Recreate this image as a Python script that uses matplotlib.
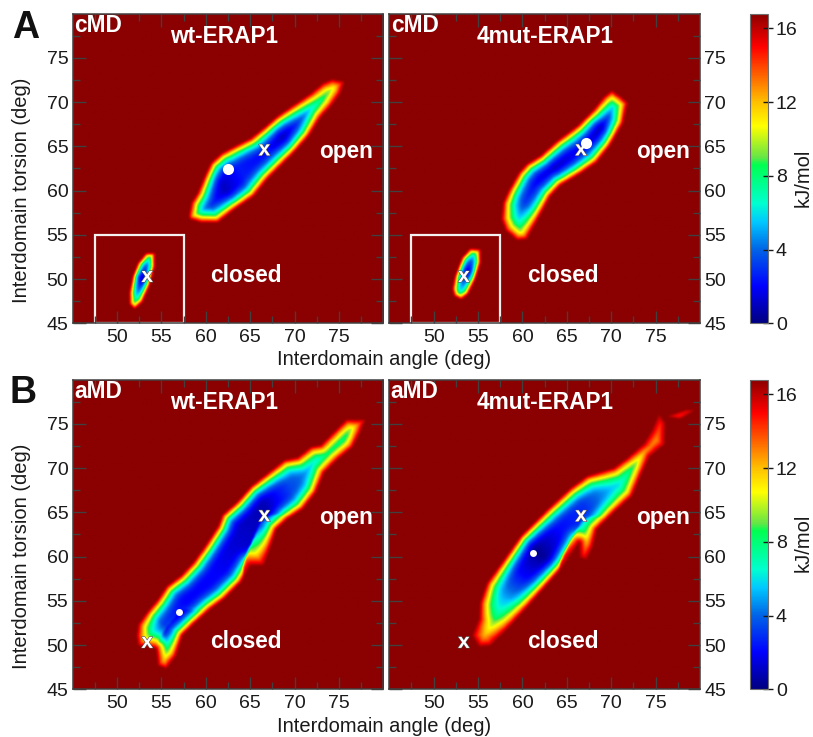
import numpy as np
import matplotlib
matplotlib.use('Agg')
import matplotlib.pyplot as plt
import matplotlib.patheffects as pe
from matplotlib.colors import LinearSegmentedColormap
from matplotlib.patches import Rectangle
from matplotlib.path import Path

plt.rcParams['font.family'] = ['Liberation Sans', 'DejaVu Sans']

VMAX = 16.8

# colour bar (kJ/mol, colour)
cmap_values = [0, 2, 4, 5.5, 6.5, 8.6, 9.0, 10.7, 12, 13.5, 15, 16.8]
cmap_colors = ['#000080', '#0000ff', '#0064e6', '#00c8ff', '#00ffd0', '#00ff50',
               '#64e646', '#ffff00', '#ffc000', '#ff6000', '#ff0000', '#8b0000']

# basin outlines (angle, torsion in deg)
cmd_wt_open_x = [58.0, 58.3, 59.0, 59.8, 60.5, 61.7, 63.2, 65.0, 66.5, 68.0, 69.9, 71.8, 73.1, 74.2, 75.6,
                 75.2, 74.1, 72.9, 71.6, 69.9, 68.4, 66.9, 65.4, 63.2, 61.3, 59.4, 58.1]
cmd_wt_open_y = [57.1, 58.6, 59.7, 61.6, 63.1, 64.2, 65.0, 65.9, 67.1, 68.4, 69.7, 71.0, 72.1, 72.6, 72.3,
                 71.0, 69.5, 68.2, 66.1, 64.2, 62.7, 61.2, 59.3, 57.8, 56.3, 56.3, 56.7]
cmd_wt_closed_x = [51.3, 51.7, 52.3, 53.2, 54.2, 54.2, 53.6, 52.8, 51.9, 51.3]
cmd_wt_closed_y = [48.4, 50.3, 51.8, 52.9, 52.9, 51.4, 49.2, 47.3, 46.5, 47.1]
cmd_mut_open_x = [57.6, 57.8, 58.5, 59.6, 60.5, 62.0, 63.9, 66.2, 68.0, 69.2, 70.1, 71.1, 71.9, 71.4, 69.9,
                  68.4, 66.5, 64.3, 63.2, 62.0, 60.5, 59.4, 58.1]
cmd_mut_open_y = [56.7, 58.6, 60.1, 62.0, 63.0, 63.9, 65.6, 67.3, 69.1, 70.6, 71.3, 70.6, 69.9, 67.6, 65.0,
                  63.1, 61.8, 60.5, 59.3, 57.1, 54.4, 54.3, 55.4]
cmd_mut_closed_x = [52.1, 52.4, 53.2, 54.1, 55.3, 55.3, 54.7, 53.9, 53.1, 52.3]
cmd_mut_closed_y = [48.8, 50.3, 52.4, 53.4, 53.3, 51.8, 49.9, 48.2, 47.6, 48.0]
amd_wt_x = [52.1, 52.3, 53.4, 54.5, 55.5, 57.1, 58.5, 59.8, 61.3, 61.8, 63.5, 65.0, 66.9, 68.8, 70.3, 71.8,
            72.9, 74.4, 75.8, 78.0, 77.4, 76.5, 74.8, 73.3, 72.4, 70.9, 69.2, 67.9, 67.3, 66.5, 65.0, 63.9,
            62.0, 60.5, 58.6, 57.3, 56.6, 55.5, 54.5, 54.3, 53.4, 52.3]
amd_wt_y = [51.0, 52.3, 53.8, 55.1, 56.6, 57.8, 59.3, 61.1, 63.4, 64.7, 66.2, 67.9, 69.4, 70.9, 71.2, 72.4,
            72.6, 74.1, 75.5, 75.5, 74.0, 72.3, 70.9, 69.4, 67.2, 65.3, 64.2, 63.0, 61.1, 58.9, 58.9, 57.0,
            55.1, 54.0, 52.3, 51.0, 48.7, 47.2, 47.6, 49.5, 49.7, 49.8]
amd_mut_x = [54.3, 55.1, 55.2, 56.0, 57.9, 59.8, 62.8, 65.4, 67.3, 70.3, 71.8, 73.7, 74.6, 75.4, 76.2, 76.1,
             74.4, 73.5, 72.4, 70.3, 68.4, 68.0, 67.3, 66.4, 66.4, 64.7, 62.4, 60.2, 58.3, 56.4, 55.1]
amd_mut_y = [51.0, 52.9, 54.7, 57.0, 59.6, 62.3, 65.3, 67.7, 69.1, 70.0, 71.1, 72.8, 74.3, 76.2, 75.1, 72.6,
             71.3, 69.4, 66.8, 64.9, 63.0, 61.1, 59.5, 59.8, 61.5, 58.9, 56.3, 53.8, 51.7, 49.8, 49.7]
amd_mut_tail_x = [76.2, 78.5, 79.7, 77.8]
amd_mut_tail_y = [75.8, 76.6, 76.6, 75.5]

# energy along the floor of each basin: angle, torsion, kJ/mol
cmd_wt_open_floor = ([58.6, 61.8, 64.0, 67.2, 68.7, 71.0, 73.5, 75.0],
                     [57.5, 60.5, 62.0, 64.4, 66.0, 68.0, 70.3, 71.5],
                     [4, 1, 2.5, 2, 0.8, 3, 6, 8])
cmd_wt_closed_floor = ([52.0, 52.8, 53.7], [47.5, 50.0, 52.2], [6, 0.8, 5])
cmd_mut_open_floor = ([58.8, 60.2, 61.7, 63.5, 66.5, 68.8, 70.5],
                      [56.3, 58.6, 60.9, 62.7, 64.8, 67.1, 69.8],
                      [6.5, 3, 1.8, 0.8, 2, 0.5, 5])
cmd_mut_closed_floor = ([53.1, 53.9, 54.7], [48.2, 50.9, 53.0], [6, 1.5, 6])
amd_wt_floor = ([53.2, 54.7, 57.7, 60.7, 63.2, 66.5, 69.5, 72.9, 75.9, 77.3],
                [50.8, 52.7, 54.9, 58.1, 61.9, 65.7, 67.7, 71.3, 73.8, 74.9],
                [8, 3.2, 2, 2, 1.3, 0.8, 3.4, 5.5, 6, 9])
amd_wt_lobe_floor = ([55.3, 56.4, 57.4], [48.3, 51.2, 53.2], [8, 1.8, 1])
amd_wt_notch_floor = ([67.0, 66.6], [63.3, 59.5], [3, 11])
amd_mut_floor = ([56.0, 56.8, 57.9, 59.8, 61.65, 64.3, 67.3, 70.3, 72.6, 74.1, 75.4],
                 [51.0, 53.2, 55.5, 58.1, 60.6, 63.0, 65.3, 67.6, 70.2, 72.8, 75.5],
                 [11, 7.5, 5, 2, 0.3, 2.2, 3, 5.5, 6, 10.5, 12])
amd_mut_notch_floor = ([67.4, 67.0], [63.5, 60.0], [5, 12])
amd_mut_tail_floor = ([76.5, 79.5], [75.9, 76.5], [14, 15])

panels = [
    dict(basins=[(cmd_wt_open_x, cmd_wt_open_y, 2.5, [cmd_wt_open_floor]),
                 (cmd_wt_closed_x, cmd_wt_closed_y, 1.2, [cmd_wt_closed_floor])],
         method='cMD', title='wt-ERAP1', dot=(62.5, 62.4), box=True),
    dict(basins=[(cmd_mut_open_x, cmd_mut_open_y, 2.5, [cmd_mut_open_floor]),
                 (cmd_mut_closed_x, cmd_mut_closed_y, 1.2, [cmd_mut_closed_floor])],
         method='cMD', title='4mut-ERAP1', dot=(67.2, 65.4), box=True),
    dict(basins=[(amd_wt_x, amd_wt_y, 2.5, [amd_wt_floor, amd_wt_lobe_floor, amd_wt_notch_floor])],
         method='aMD', title='wt-ERAP1', dot=(57.0, 53.7), box=False),
    dict(basins=[(amd_mut_x, amd_mut_y, 2.5, [amd_mut_floor, amd_mut_notch_floor]),
                 (amd_mut_tail_x, amd_mut_tail_y, 0.6, [amd_mut_tail_floor])],
         method='aMD', title='4mut-ERAP1', dot=(61.2, 60.4), box=False),
]
cross_x = [53.4, 66.6]
cross_y = [50.3, 64.6]

nodes = np.linspace(45, 80, 351)
gx, gy = np.meshgrid(nodes, nodes)
kernel = np.array([1, 2, 3, 2, 1], dtype=float)
kernel /= kernel.sum()


def seg_dist(x0, y0, x1, y1):
    dx, dy = x1 - x0, y1 - y0
    t = np.clip(((gx - x0) * dx + (gy - y0) * dy) / (dx * dx + dy * dy), 0, 1)
    return np.hypot(gx - x0 - t * dx, gy - y0 - t * dy), t


def floor_energy(floors):
    best = np.full(gx.shape, np.inf)
    out = np.full(gx.shape, VMAX)
    for xs, ys, es in floors:
        for i in range(len(xs) - 1):
            d, t = seg_dist(xs[i], ys[i], xs[i + 1], ys[i + 1])
            closer = d < best
            best[closer] = d[closer]
            out[closer] = (es[i] + t * (es[i + 1] - es[i]))[closer]
    return out


def basin_energy(xs, ys, depth, floors):
    inside = Path(np.column_stack([xs, ys])).contains_points(np.column_stack([gx.ravel(), gy.ravel()]))
    inside = inside.reshape(gx.shape)
    edge = np.full(gx.shape, np.inf)
    for i in range(len(xs)):
        j = (i + 1) % len(xs)
        edge = np.minimum(edge, seg_dist(xs[i], ys[i], xs[j], ys[j])[0])
    e = floor_energy(floors)
    z = e + (VMAX - e) * np.clip(1 - edge / depth, 0, 1) ** 2.2
    z[~inside] = VMAX
    return z


def panel_energy(basins):
    z = np.minimum.reduce([basin_energy(*b) for b in basins])
    # soften the polygon corners a little
    z = np.apply_along_axis(lambda v: np.convolve(v, kernel, mode='same'), 0, z - VMAX) + VMAX
    z = np.apply_along_axis(lambda v: np.convolve(v, kernel, mode='same'), 1, z - VMAX) + VMAX
    return z


cmap = LinearSegmentedColormap.from_list('fes', [(v / VMAX, c) for v, c in zip(cmap_values, cmap_colors)], N=512)

W, H = 813, 737
fig = plt.figure(figsize=(W / 100, H / 100), dpi=100)


def px_axes(left, top, right, bottom):
    return fig.add_axes([left / W, 1 - bottom / H, (right - left) / W, (bottom - top) / H])


lefts = [(72.6, 383.4), (389.3, 700.0)]
rows = [(13.5, 323.4), (379.5, 689.3)]
title_x = [62.1, 62.5]
spine = '#404040'
ink = '#1a1a1a'
white_bold = dict(color='white', fontweight='bold')

for n, p in enumerate(panels):
    l, r = lefts[n % 2]
    t, b = rows[n // 2]
    ax = px_axes(l, t, r, b)
    im = ax.imshow(panel_energy(p['basins']), origin='lower', extent=(45, 80, 45, 80), cmap=cmap,
                   vmin=0, vmax=VMAX, interpolation='bilinear', aspect='auto')
    ax.set_xlim(45, 80)
    ax.set_ylim(45, 80)
    ax.set_xticks(np.arange(50, 76, 5))
    ax.set_yticks(np.arange(45, 76, 5))
    ax.set_xticks(np.arange(47.5, 80, 5), minor=True)
    ax.set_yticks(np.arange(47.5, 80, 5), minor=True)
    ax.tick_params(which='major', direction='in', length=9, width=1, color=spine, top=True, right=True,
                   labelsize=14, labelcolor=ink, pad=4)
    ax.tick_params(axis='y', which='major', pad=3)
    ax.tick_params(which='minor', direction='in', length=5, width=1, color=spine, top=True, right=True)
    if n % 2 == 1:
        ax.tick_params(axis='y', which='major', labelleft=False, labelright=True, pad=3)
    for s in ax.spines.values():
        s.set_color(spine)
        s.set_linewidth(1.1)
    if p['box']:
        ax.add_patch(Rectangle((47.5, 45), 10, 10, fill=False, ec='#f4f0f0', lw=1.6, clip_on=True))
    for cx, cy in zip(cross_x, cross_y):
        ax.text(cx, cy, 'x', fontsize=15, ha='center', va='center', zorder=4,
                path_effects=[pe.withStroke(linewidth=0.8, foreground='#505050')], **white_bold)
    ax.plot(*p['dot'], marker='o', ms=8 if n < 2 else 5, mfc='white', mec='none', zorder=5)
    ax.text(45.15, 79.9, p['method'], fontsize=16.4, va='top', ha='left', **white_bold)
    ax.text(title_x[n % 2], 77.4, p['title'], fontsize=16.3, va='center', ha='center', **white_bold)
    ax.text(75.8, 64.4, 'open', fontsize=16.3, va='center', ha='center', **white_bold)
    ax.text(64.5, 50.4, 'closed', fontsize=16.3, va='center', ha='center', **white_bold)

    if n % 2 == 1:
        cax = px_axes(749.7, t, 768.3, b)
        cb = fig.colorbar(im, cax=cax, ticks=[0, 4, 8, 12, 16])
        cb.ax.tick_params(direction='inout', length=7, width=1, color=ink, labelsize=14, labelcolor=ink, pad=2)
        cb.outline.set_edgecolor('#707070')

label_kw = dict(fontsize=14.5, ha='center', va='center', color=ink)
fig.text(384 / W, 1 - 359.5 / H, 'Interdomain angle (deg)', **label_kw)
fig.text(384 / W, 1 - 726.5 / H, 'Interdomain angle (deg)', **label_kw)
fig.text(22 / W, 1 - 190 / H, 'Interdomain torsion (deg)', rotation=90, **label_kw)
fig.text(22 / W, 1 - 556.5 / H, 'Interdomain torsion (deg)', rotation=90, **label_kw)
fig.text(803 / W, 1 - 178 / H, 'kJ/mol', rotation=90, **label_kw)
fig.text(803 / W, 1 - 543 / H, 'kJ/mol', rotation=90, **label_kw)
fig.text(26 / W, 1 - 28 / H, 'A', fontsize=27, fontweight='bold', ha='center', va='center', color='#111111')
fig.text(23 / W, 1 - 393 / H, 'B', fontsize=27, fontweight='bold', ha='center', va='center', color='#111111')

fig.savefig('out.png', dpi=100)
